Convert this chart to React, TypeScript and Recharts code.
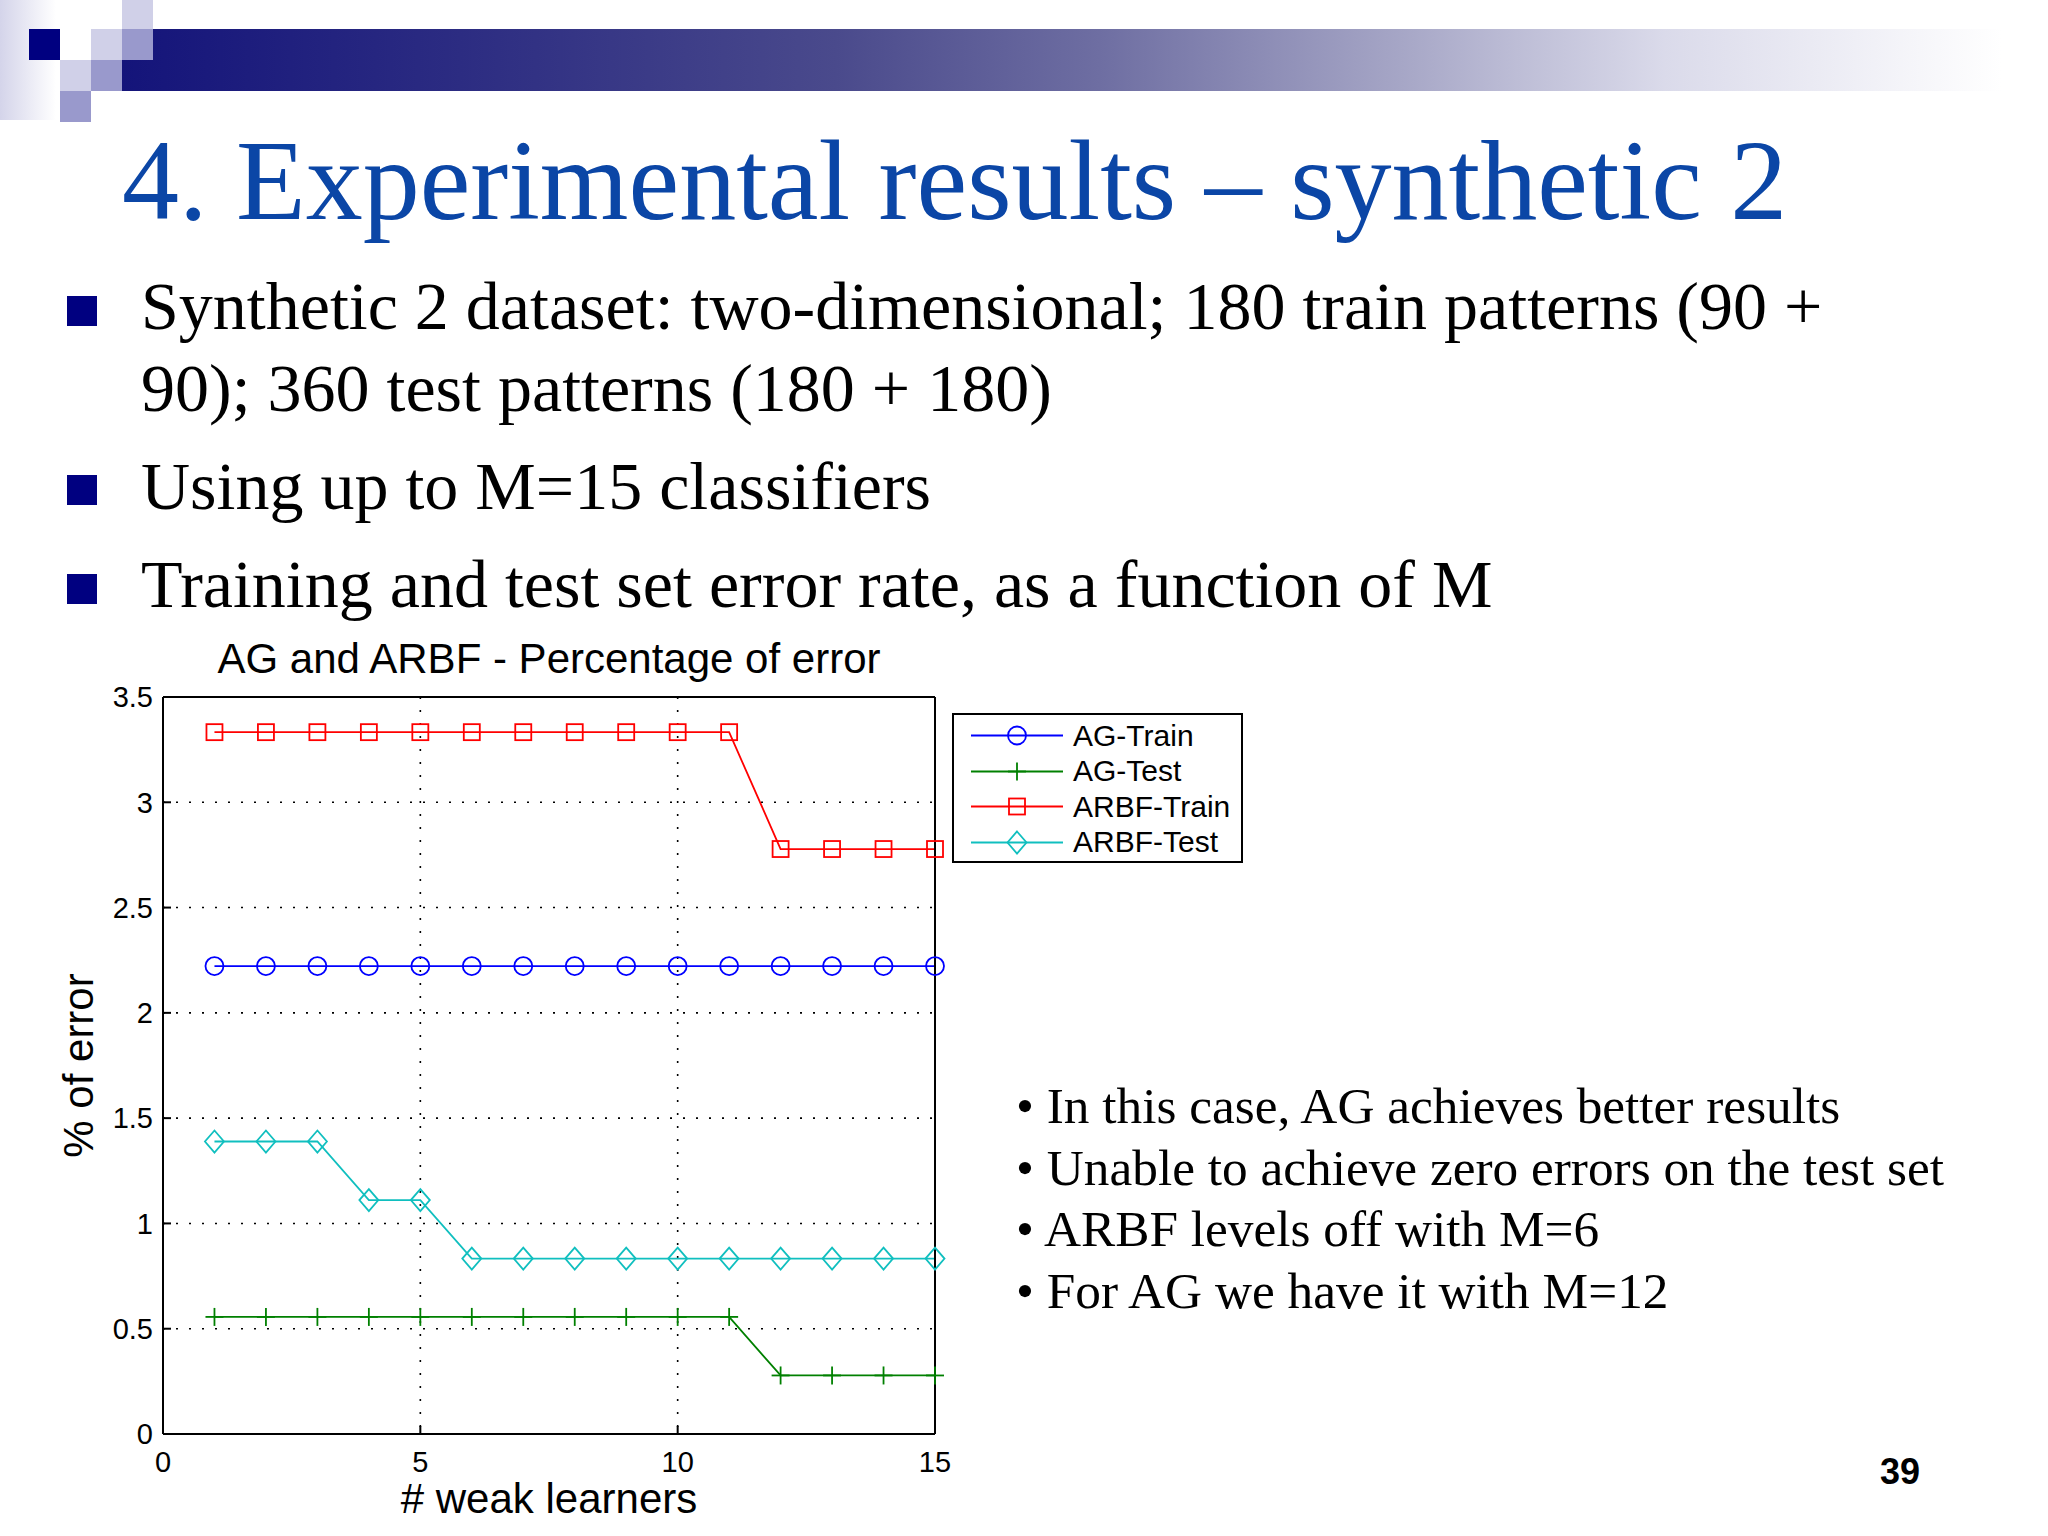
import { LineChart, Line, XAxis, YAxis, CartesianGrid, Legend } from 'recharts'

// number of weak learners M
const learners = [1, 2, 3, 4, 5, 6, 7, 8, 9, 10, 11, 12, 13, 14, 15]

// % of error
const agTrain = [2.222, 2.222, 2.222, 2.222, 2.222, 2.222, 2.222, 2.222, 2.222, 2.222, 2.222, 2.222, 2.222, 2.222, 2.222]
const agTest = [0.556, 0.556, 0.556, 0.556, 0.556, 0.556, 0.556, 0.556, 0.556, 0.556, 0.556, 0.278, 0.278, 0.278, 0.278]
const arbfTrain = [3.333, 3.333, 3.333, 3.333, 3.333, 3.333, 3.333, 3.333, 3.333, 3.333, 3.333, 2.778, 2.778, 2.778, 2.778]
const arbfTest = [1.389, 1.389, 1.389, 1.111, 1.111, 0.833, 0.833, 0.833, 0.833, 0.833, 0.833, 0.833, 0.833, 0.833, 0.833]

const xTicks = [0, 5, 10, 15]
const yTicks = [0, 0.5, 1, 1.5, 2, 2.5, 3, 3.5]

const bulletLines = [
  'Synthetic 2 dataset: two-dimensional; 180 train patterns (90 +',
  '90); 360 test patterns (180 + 180)',
  'Using up to M=15 classifiers',
  'Training and test set error rate, as a function of M',
]
const notes = [
  'In this case, AG achieves better results',
  'Unable to achieve zero errors on the test set',
  'ARBF levels off with M=6',
  'For AG we have it with M=12',
]

const series = [
  { key: 'agTrain', name: 'AG-Train', color: '#0000ff', marker: 'circle' },
  { key: 'agTest', name: 'AG-Test', color: '#008000', marker: 'plus' },
  { key: 'arbfTrain', name: 'ARBF-Train', color: '#ff0000', marker: 'square' },
  { key: 'arbfTest', name: 'ARBF-Test', color: '#10bfbf', marker: 'diamond' },
]

const data = learners.map((m, i) => ({
  m,
  agTrain: agTrain[i],
  agTest: agTest[i],
  arbfTrain: arbfTrain[i],
  arbfTest: arbfTest[i],
}))

const SANS = '"Liberation Sans", Arial, sans-serif'
const SERIF = '"Liberation Serif", "Times New Roman", serif'

function Marker({ kind, color, cx, cy }: { kind: string; color: string; cx: number; cy: number }) {
  const sw = 1.8
  if (kind === 'circle') return <circle cx={cx} cy={cy} r={9} fill="none" stroke={color} strokeWidth={sw} />
  if (kind === 'square') return <rect x={cx - 8} y={cy - 8} width={16} height={16} fill="none" stroke={color} strokeWidth={sw} />
  if (kind === 'diamond')
    return (
      <polygon
        points={`${cx},${cy - 11} ${cx + 9.5},${cy} ${cx},${cy + 11} ${cx - 9.5},${cy}`}
        fill="none"
        stroke={color}
        strokeWidth={sw}
      />
    )
  return (
    <g stroke={color} strokeWidth={sw}>
      <line x1={cx - 9} y1={cy} x2={cx + 9} y2={cy} />
      <line x1={cx} y1={cy - 9} x2={cx} y2={cy + 9} />
    </g>
  )
}

const renderLegend = () => (
  <div
    style={{
      width: 291,
      height: 150,
      boxSizing: 'border-box',
      border: '2px solid #000',
      background: '#fff',
      paddingTop: 3,
      fontFamily: SANS,
      fontSize: 30,
      color: '#000',
    }}
  >
    {series.map((s) => (
      <div key={s.key} style={{ display: 'flex', alignItems: 'center', height: 35.5 }}>
        <svg width={102} height={35} style={{ marginLeft: 17 }}>
          <line x1={0} y1={17.5} x2={92} y2={17.5} stroke={s.color} strokeWidth={1.8} />
          <Marker kind={s.marker} color={s.color} cx={46} cy={17.5} />
        </svg>
        <span style={{ lineHeight: 1 }}>{s.name}</span>
      </div>
    ))}
  </div>
)

const sq = (left: number, top: number, color: string) => (
  <div style={{ position: 'absolute', left, top, width: 31, height: 31, background: color }} />
)

export default function App() {
  return (
    <div style={{ position: 'relative', width: 2048, height: 1536, background: '#fff', overflow: 'hidden' }}>
      <style>{'body{margin:0}'}</style>

      {/* header decoration */}
      <div
        style={{
          position: 'absolute',
          left: 0,
          top: 0,
          width: 56,
          height: 120,
          background: 'linear-gradient(to right, #d4d4ea, #ffffff)',
        }}
      />
      <div
        style={{
          position: 'absolute',
          left: 122,
          top: 29,
          width: 1880,
          height: 62,
          background:
            'linear-gradient(to right, #14147a 0%, #2c2c82 18%, #4a4a8c 38%, #6e6ea2 52%, #a6a6c6 68%, #dadaea 82%, #ffffff 100%)',
        }}
      />
      {sq(29, 29, '#000080')}
      {sq(122, -2, '#d0d0e8')}
      {sq(91, 29, '#d0d0e8')}
      {sq(122, 29, '#9999cc')}
      {sq(60, 60, '#d0d0e8')}
      {sq(91, 60, '#9999cc')}
      {sq(60, 91, '#9999cc')}

      <div
        style={{
          position: 'absolute',
          left: 122,
          top: 124,
          fontFamily: SERIF,
          fontSize: 114,
          lineHeight: 1,
          color: '#0b46a6',
          whiteSpace: 'nowrap',
        }}
      >
        4. Experimental results – synthetic 2
      </div>

      {bulletLines.map((t, i) => {
        const tops = [272, 354, 452, 550]
        return (
          <div
            key={t}
            style={{
              position: 'absolute',
              left: 141,
              top: tops[i],
              fontFamily: SERIF,
              fontSize: 68,
              lineHeight: 1,
              color: '#000',
              whiteSpace: 'nowrap',
            }}
          >
            {t}
          </div>
        )
      })}
      {[296, 475, 574].map((top) => (
        <div key={top} style={{ position: 'absolute', left: 67, top, width: 30, height: 30, background: '#000080' }} />
      ))}

      {notes.map((t, i) => (
        <div
          key={t}
          style={{
            position: 'absolute',
            left: 1016,
            top: 1080 + i * 61.5,
            fontFamily: SERIF,
            fontSize: 51.3,
            lineHeight: 1,
            color: '#000',
            whiteSpace: 'nowrap',
          }}
        >
          {'• ' + t}
        </div>
      ))}

      <div
        style={{
          position: 'absolute',
          left: 1880,
          top: 1454,
          fontFamily: SANS,
          fontWeight: 'bold',
          fontSize: 36,
          lineHeight: 1,
          color: '#000',
        }}
      >
        39
      </div>

      <div
        style={{
          position: 'absolute',
          left: 0,
          top: 638,
          width: 1098,
          textAlign: 'center',
          fontFamily: SANS,
          fontSize: 42,
          lineHeight: 1,
          color: '#000',
        }}
      >
        AG and ARBF - Percentage of error
      </div>

      <div style={{ position: 'absolute', left: 0, top: 620 }}>
        <LineChart
          width={1300}
          height={916}
          data={data}
          margin={{ top: 76, right: 364, bottom: 12, left: 73 }}
          style={{ fontFamily: SANS }}
        >
          <CartesianGrid stroke="#000" strokeWidth={1.6} strokeDasharray="2 11" />
          <XAxis
            dataKey="m"
            type="number"
            domain={[0, 15]}
            ticks={xTicks}
            height={90}
            tickSize={-8}
            tickMargin={25}
            axisLine={{ stroke: '#000', strokeWidth: 2 }}
            tickLine={{ stroke: '#000', strokeWidth: 2 }}
            tick={{ fill: '#000', fontSize: 29 }}
            label={{ value: '# weak learners', position: 'insideBottom', offset: 11, fill: '#000', fontSize: 42 }}
          />
          <XAxis
            xAxisId="top"
            orientation="top"
            type="number"
            domain={[0, 15]}
            ticks={xTicks}
            height={1}
            tickSize={-8}
            tick={false}
            axisLine={{ stroke: '#000', strokeWidth: 2 }}
            tickLine={{ stroke: '#000', strokeWidth: 2 }}
          />
          <YAxis
            type="number"
            domain={[0, 3.5]}
            ticks={yTicks}
            width={90}
            tickSize={-8}
            tickMargin={18}
            axisLine={{ stroke: '#000', strokeWidth: 2 }}
            tickLine={{ stroke: '#000', strokeWidth: 2 }}
            tick={{ fill: '#000', fontSize: 29 }}
            label={{
              value: '% of error',
              angle: -90,
              position: 'insideLeft',
              offset: 5,
              fill: '#000',
              fontSize: 42,
              style: { textAnchor: 'middle' },
            }}
          />
          <YAxis
            yAxisId="right"
            orientation="right"
            type="number"
            domain={[0, 3.5]}
            ticks={yTicks}
            width={1}
            tickSize={-8}
            tick={false}
            axisLine={{ stroke: '#000', strokeWidth: 2 }}
            tickLine={{ stroke: '#000', strokeWidth: 2 }}
          />
          <Legend
            content={renderLegend}
            layout="horizontal"
            verticalAlign="middle"
            align="center"
            wrapperStyle={{ left: 952, top: 93, width: 291, height: 150 }}
          />
          {series.map((s) => (
            <Line
              key={s.key}
              dataKey={s.key}
              name={s.name}
              type="linear"
              stroke={s.color}
              strokeWidth={1.8}
              isAnimationActive={false}
              activeDot={false}
              dot={(p: any) => (
                <Marker key={`${s.key}-${p.index}`} kind={s.marker} color={s.color} cx={p.cx} cy={p.cy} />
              )}
            />
          ))}
        </LineChart>
      </div>
    </div>
  )
}
